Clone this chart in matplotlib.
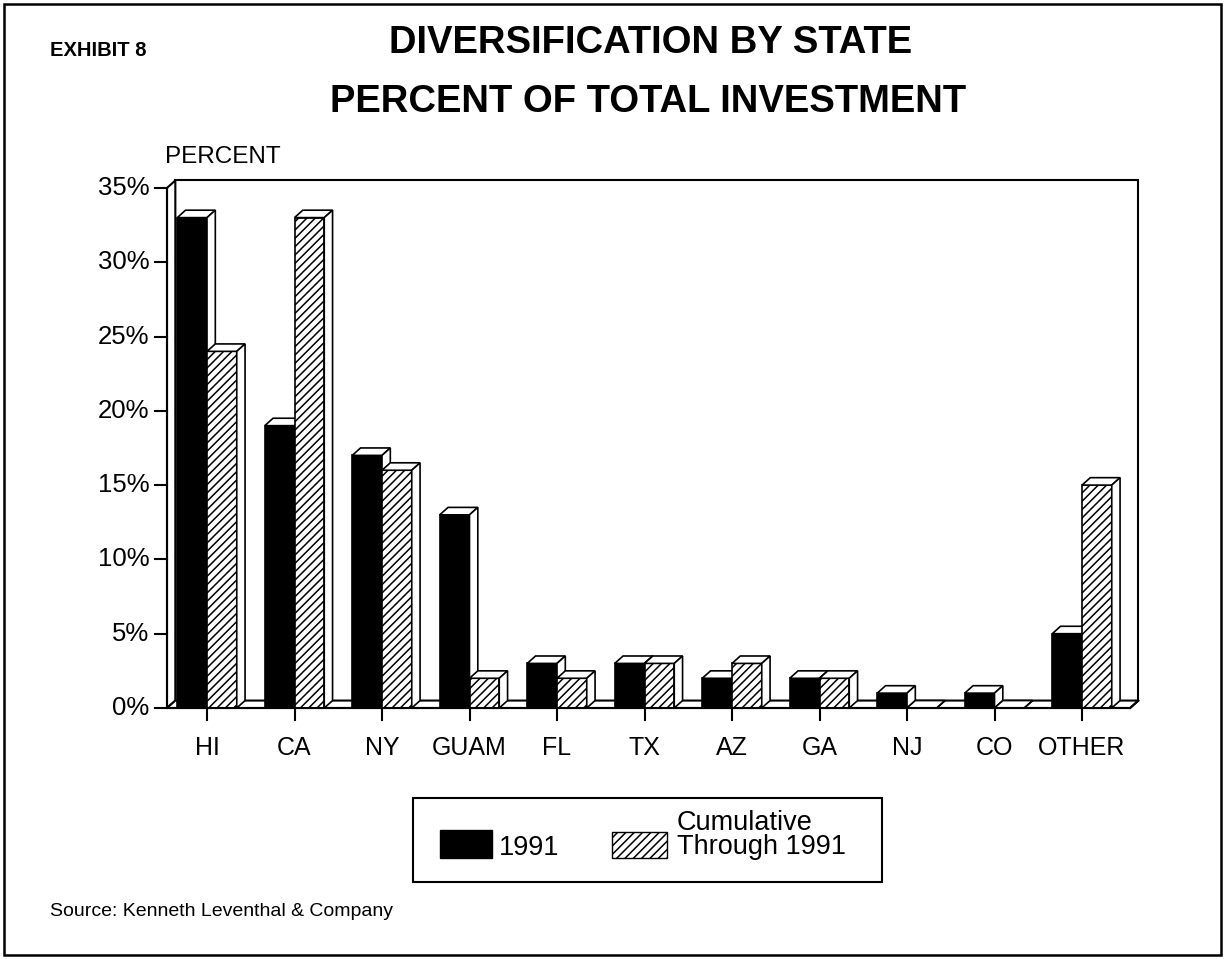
import matplotlib.pyplot as plt
from matplotlib.patches import Polygon, Rectangle

# Percent of total investment by state
states = ["HI", "CA", "NY", "GUAM", "FL", "TX", "AZ", "GA", "NJ", "CO", "OTHER"]
pct_1991 = [33, 19, 17, 13, 3, 3, 2, 2, 1, 1, 5]
pct_cumulative = [24, 33, 16, 2, 2, 3, 3, 2, 0, 0, 15]
y_ticks = [0, 5, 10, 15, 20, 25, 30, 35]
y_labels = ["0%", "5%", "10%", "15%", "20%", "25%", "30%", "35%"]
legend_labels = ["1991", "Cumulative\nThrough 1991"]

W, H = 1225, 959
plt.rcParams["font.family"] = ["Liberation Sans", "DejaVu Sans"]
plt.rcParams["hatch.color"] = "black"
plt.rcParams["hatch.linewidth"] = 1.1

# 3-D depth offset and bar width (data units)
DX, DY = 0.095, 0.5
BAR_W = 0.34
X0, X1 = -0.457, 10.55
YMAX = 35

fig = plt.figure(figsize=(W / 100, H / 100), dpi=100)

# overlay in pixel coordinates for border, titles and legend
ov = fig.add_axes([0, 0, 1, 1])
ov.set_xlim(0, W)
ov.set_ylim(H, 0)
ov.axis("off")

ov.add_patch(Rectangle((4, 4), W - 8, H - 8, fill=False, lw=1.8, ec="black"))
ov.text(50, 51, "EXHIBIT 8", fontsize=14.5, fontweight="bold", va="center")
ov.text(651, 43, "DIVERSIFICATION BY STATE", fontsize=27.5, fontweight="bold",
        ha="center", va="center")
ov.text(648, 102, "PERCENT OF TOTAL INVESTMENT", fontsize=27.5, fontweight="bold",
        ha="center", va="center")
ov.text(165, 157, "PERCENT", fontsize=17.5, va="center")
ov.text(50, 912, "Source: Kenneth Leventhal & Company", fontsize=14, va="center")

# legend box
ov.add_patch(Rectangle((413, 798), 469, 84, fc="white", ec="black", lw=1.5))
ov.add_patch(Rectangle((440, 830), 52, 28, fc="black", ec="black"))
ov.text(499, 848, legend_labels[0], fontsize=19.5, va="center")
ov.add_patch(Rectangle((612, 832), 55, 26, fc="white", ec="black",
                       hatch="////", lw=1.0))
ov.text(677, 835, legend_labels[1], fontsize=19.5, va="center", linespacing=0.95)

# chart area: x in category units, y in percent
ax = fig.add_axes([100 / W, 1 - 760 / H, 1060 / W, 610 / H])
ax.set_xlim((100 - 207) / 87.5, (1160 - 207) / 87.5)
ax.set_ylim((708 - 760) / 14.86, (708 - 150) / 14.86)
ax.axis("off")

lw = 1.5
# back wall, left wall and floor
ax.add_patch(Polygon([(X0 + DX, DY), (X1 + DX, DY), (X1 + DX, YMAX + DY),
                      (X0 + DX, YMAX + DY)], fc="white", ec="black", lw=lw, zorder=1))
ax.add_patch(Polygon([(X0, 0), (X0 + DX, DY), (X0 + DX, YMAX + DY), (X0, YMAX)],
                     fc="white", ec="black", lw=lw, zorder=1))
ax.add_patch(Polygon([(X0, 0), (X1, 0), (X1 + DX, DY), (X0 + DX, DY)],
                     fc="white", ec="black", lw=lw, zorder=1))

# y axis ticks and labels
for t, lab in zip(y_ticks, y_labels):
    ax.plot([X0 - 0.14, X0], [t, t], color="black", lw=lw, zorder=1)
    ax.text(X0 - 0.2, t, lab, fontsize=18.5, ha="right", va="center")
ax.plot([X0, X0], [0, YMAX], color="black", lw=lw, zorder=1)


def bar3d(x, h, face, hatch, z):
    ax.add_patch(Rectangle((x, 0), BAR_W, h, fc=face, ec="black", lw=1.2,
                           hatch=hatch, zorder=z))
    ax.add_patch(Polygon([(x, h), (x + BAR_W, h), (x + BAR_W + DX, h + DY),
                          (x + DX, h + DY)], fc="white", ec="black", lw=1.2, zorder=z))
    ax.add_patch(Polygon([(x + BAR_W, 0), (x + BAR_W + DX, DY),
                          (x + BAR_W + DX, h + DY), (x + BAR_W, h)],
                         fc="white", ec="black", lw=1.2, zorder=z))


for i, (state, a, c) in enumerate(zip(states, pct_1991, pct_cumulative)):
    bar3d(i - BAR_W, a, "black", None, 2 + 2 * i)
    bar3d(i, c, "white", "////", 3 + 2 * i)
    ax.plot([i, i], [0, -0.8], color="black", lw=lw, zorder=1)
    ax.text(i, -2.7, state, fontsize=18, ha="center", va="center")

ax.plot([X0, X1], [0, 0], color="black", lw=lw, zorder=40)
ax.plot([X1, X1 + DX], [0, DY], color="black", lw=lw, zorder=40)

fig.savefig("out.png", dpi=100)
